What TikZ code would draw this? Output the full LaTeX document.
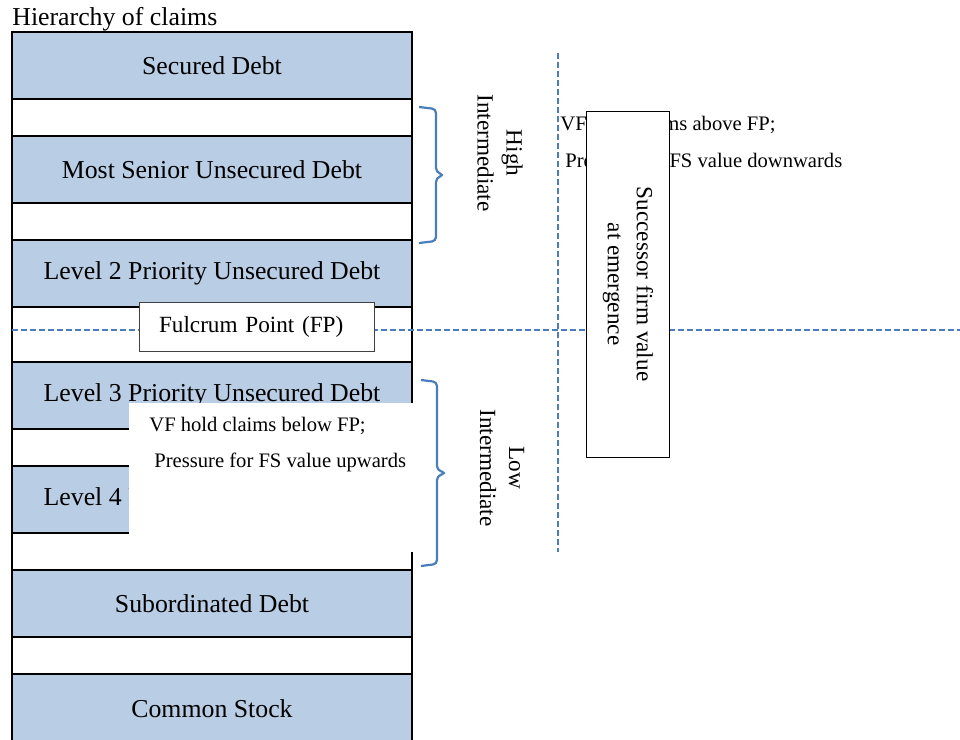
\documentclass[tikz,border=0pt]{standalone}
\usepackage{fontspec}
\setmainfont{Liberation Serif}
\usetikzlibrary{positioning}
\definecolor{claimfill}{HTML}{B9CDE5}
\definecolor{guideblue}{HTML}{4A7EBB}
\tikzset{
    band/.style={draw, line width=1pt, fill=claimfill, minimum width=200pt, minimum height=33.5pt,
        outer sep=0pt, inner sep=0pt, font=\fontsize{12.9}{15}\selectfont},
    gapband/.style={band, fill=white, minimum height=18.5pt},
    guide/.style={guideblue, line width=0.6pt, dash pattern=on 3pt off 1.5pt},
    note/.style={inner sep=0pt, anchor=west, font=\fontsize{10.3}{12}\selectfont},
    sidelabel/.style={rotate=-90, align=center, font=\fontsize{11.6}{14.5}\selectfont},
    bracket/.style={guideblue, line width=1.1pt, rounded corners=2pt}
}
\begin{document}
\begin{tikzpicture}[x=0.5pt,y=-0.5pt]
        \useasboundingbox (0,0) rectangle (960,740);
        \node[anchor=base west, inner sep=0pt, font=\fontsize{12.9}{15}\selectfont] (title) at (12,25) {Hierarchy of claims};
        % column of claims
        \node[band] (secured) at (212,65.5) {Secured Debt};
        \node[gapband, below=0pt of secured] (gapa) {};
        \node[band, below=0pt of gapa] (senior) {Most Senior Unsecured Debt};
        \node[gapband, below=0pt of senior] (gapb) {};
        \node[band, below=0pt of gapb] (levtwo) {Level 2 Priority Unsecured Debt};
        \node[gapband, minimum height=27.5pt, below=0pt of levtwo] (fpband) {};
        \node[band, below=0pt of fpband] (levthree) {Level 3 Priority Unsecured Debt};
        \node[gapband, below=0pt of levthree] (gapc) {};
        \node[band, below=0pt of gapc] (levfour) {Level 4 Priority Unsecured Debt};
        \node[gapband, below=0pt of levfour] (gapd) {};
        \node[band, below=0pt of gapd] (subord) {Subordinated Debt};
        \node[gapband, below=0pt of subord] (gape) {};
        \node[band, minimum height=35pt, below=0pt of gape] (common) {Common Stock};
        % guide lines
        \coordinate (hleft) at (12,330);
        \coordinate (hright) at (962,330);
        \draw[guide] (hleft) -- (hright);
        \coordinate (vtop) at (558,53);
        \coordinate (vbot) at (558,552);
        \draw[guide] (vtop) -- (vbot);
        % above the fulcrum
        \node[note] (abovea) at (560,125) {VF hold claims above FP;};
        \node[note] (aboveb) at (565,160) {Pressure for FS value downwards};
        \node[draw, line width=0.5pt, fill=white, rotate=-90, minimum width=173pt, minimum height=41.5pt,
            inner sep=0pt, align=center, font=\fontsize{11.6}{14.5}\selectfont] (successor) at (628,284)
            {Successor firm value\\at emergence};
        \node[draw=black!75, line width=0.5pt, fill=white, minimum width=117.5pt, minimum height=24.5pt,
            text width=97.5pt, inner xsep=10pt, align=left, font=\fontsize{11.6}{14}\selectfont] (fulcrum)
            at (256.5,326.5) {Fulcrum Point (FP)};
        % below the fulcrum
        \node[fill=white, minimum width=142pt, minimum height=74.5pt, inner sep=0pt] (belowbox) at (271,477.5) {};
        \node[note] (belowa) at (149,426) {VF hold claims below FP;};
        \node[note] (belowb) at (154,462) {Pressure for FS value upwards};
        % braces
        \coordinate (hightop) at (419,107);
        \draw[bracket] (hightop) -- ++(17,2) -- ++(0,63) -- ++(8,3) -- ++(-8,3) -- ++(0,63) -- ++(-17,2);
        \coordinate (lowtop) at (421,380);
        \draw[bracket] (lowtop) -- ++(16,2) -- ++(0,88) -- ++(9,3) -- ++(-9,3) -- ++(0,88) -- ++(-16,2);
        \node[sidelabel] (high) at (500,153) {High\\Intermediate};
        \node[sidelabel] (low) at (502,468) {Low\\Intermediate};
\end{tikzpicture}
\end{document}
